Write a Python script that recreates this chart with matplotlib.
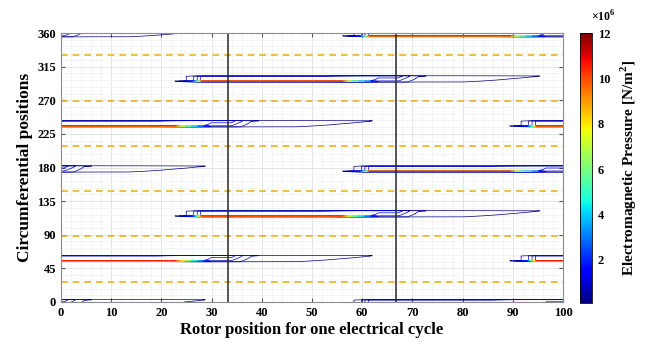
import numpy as np
import matplotlib
matplotlib.use("Agg")
import matplotlib.pyplot as plt
from matplotlib import colors, cm

plt.rcParams["font.family"] = ["Liberation Serif", "DejaVu Serif"]
plt.rcParams["font.weight"] = "bold"
plt.rcParams["axes.labelweight"] = "bold"
plt.rcParams["mathtext.fontset"] = "custom"
plt.rcParams["mathtext.rm"] = "Liberation Serif:bold"
plt.rcParams["mathtext.bf"] = "Liberation Serif:bold"

# --- pressure events: tooth-tip bands (bottom edge, deg) and onset times (rotor position)
band_bottom = [54.0, 114.0, 174.0, 234.5, 294.5, 355.0, -5.0]
band_onsets = [
    [-11.1, 88.9],
    [22.2],
    [-44.4, 55.6],
    [-11.1, 88.9],
    [22.2],
    [-44.4, 55.6],
    [-44.4, 55.6],
]

# peak pressure over the life of an event (x1e6 N/m^2)
peak_tau = [0.0, 2.0, 4.0, 6.0, 20.0, 33.5, 35.0, 36.5, 38.0, 39.5, 40.5, 41.0]
peak_val = [0.0, 0.6, 3.0, 11.6, 11.4, 11.2, 8.5, 6.5, 4.6, 2.8, 1.4, 0.0]
# residual pressure carried in the tail of an event (x1e6 N/m^2)
tail_tau = [0.0, 30.0, 38.0, 45.0, 46.0, 47.5, 49.0, 58.0, 67.0, 73.2, 74.0]
tail_val = [0.0, 0.0, 1.2, 1.2, 0.95, 0.66, 0.42, 0.3, 0.2, 0.15, 0.0]
# radial-direction profiles across a band (offset from band bottom, deg)
peak_off = [-0.5, 0.0, 1.2, 1.45, 7.5, 8.3]
peak_shape = [0.0, 0.0, 1.0, 0.1, 0.1, 0.0]
tail_off = [-0.3, 0.0, 8.0, 8.5]
tail_shape = [0.0, 0.5, 1.0, 0.0]

levels = [0.15, 0.4, 0.7, 1.0, 2.0, 3.5, 5.0, 6.5, 8.0, 9.5, 10.6]

stator_slots = [27.0, 88.0, 148.0, 209.0, 269.0, 330.0]
sector_marks = [33.33, 66.67]

t = np.linspace(0, 100, 801)
y = np.linspace(0, 360, 3601)
Z = np.zeros((y.size, t.size))
for yb, onsets in zip(band_bottom, band_onsets):
    p = np.interp(y - yb, peak_off, peak_shape, left=0, right=0)
    q = np.interp(y - yb, tail_off, tail_shape, left=0, right=0)
    for t0 in onsets:
        a = np.interp(t - t0, peak_tau, peak_val, left=0, right=0)
        b = np.interp(t - t0, tail_tau, tail_val, left=0, right=0)
        Z += np.outer(p, a) + np.outer(q, b)

fig = plt.figure(figsize=(6.46, 3.49), dpi=100)
ax = fig.add_axes([61 / 646, 1 - 302 / 349, 502 / 646, 269 / 349])
norm = colors.Normalize(vmin=0.1e6, vmax=12e6)
ax.contour(t, y, Z * 1e6, levels=np.array(levels) * 1e6, cmap="jet", norm=norm,
           linewidths=0.5)

for s in stator_slots:
    ax.axhline(s, color="#EDB120", lw=1.2, ls=(0, (4, 3)))
for m in sector_marks:
    ax.axvline(m, color="#262626", lw=1.1)

ax.set_xlim(0, 100)
ax.set_ylim(0, 360)
ax.set_xticks(np.arange(0, 101, 10))
ax.set_yticks(np.arange(0, 361, 45))
ax.set_xticks(np.arange(0, 101, 2), minor=True)
ax.set_yticks(np.arange(0, 361, 9), minor=True)
ax.grid(True, which="major", color="#e0e0e0", lw=0.6)
ax.grid(True, which="minor", color="#f0f0f0", lw=0.5)
ax.set_axisbelow(True)
ax.tick_params(which="both", direction="in", top=True, right=True,
               labelsize=9, color="#555555")
ax.tick_params(which="minor", length=0)
ax.tick_params(which="major", length=3)
for sp in ax.spines.values():
    sp.set_color("#8c8c8c")
    sp.set_linewidth(0.8)
ax.set_xlabel("Rotor position for one electrical cycle", fontsize=12, labelpad=2)
ax.set_ylabel("Circumferential positions", fontsize=12.5, labelpad=3)

cax = fig.add_axes([580 / 646, 1 - 303 / 349, 12 / 646, 270 / 349])
sm = cm.ScalarMappable(norm=norm, cmap="jet")
cb = fig.colorbar(sm, cax=cax)
cb.set_ticks(np.arange(2, 13, 2) * 1e6)
cb.set_ticklabels([f"{v:d}" for v in range(2, 13, 2)])
cax.tick_params(labelsize=9, direction="out", length=0, pad=4)
cb.outline.set_linewidth(0.6)
cb.set_label("Electromagnetic Pressure [N/m$^2$]", fontsize=11, labelpad=6)
fig.text(603 / 646, 1 - 17 / 349, r"$\times10^{6}$", fontsize=8.5,
         ha="center", va="center")

fig.savefig("out.png", dpi=100)
